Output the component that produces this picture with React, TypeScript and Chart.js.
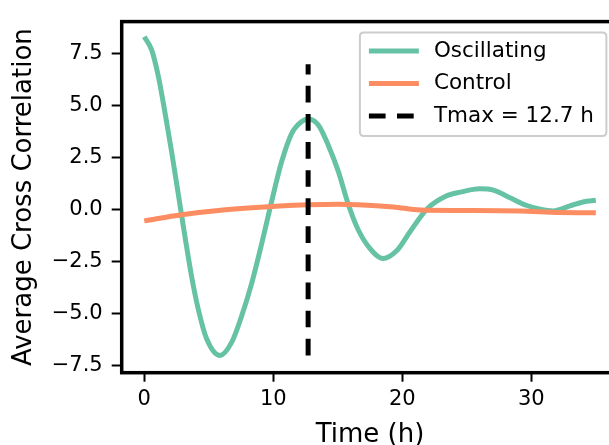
import React, { useEffect, useRef } from 'react';
import { Chart, registerables } from 'chart.js';

Chart.register(...registerables);

// ---- data ----
const oscTimes = [0, 0.57, 1.09, 1.6, 2.12, 2.64, 3.16, 3.67, 4.19, 4.84, 5.87, 6.78, 7.55, 8.33, 9.1, 9.88, 10.65, 11.43, 12.2, 12.71, 13.49, 14.26, 15.04, 15.81, 16.59, 17.5, 18.5, 19.56, 20.6, 21.9, 23.4, 24.5, 26.0, 27.06, 28.35, 29.6, 30.7, 31.7, 33.0, 34.0, 35.0];
const oscValues = [8.32, 7.69, 6.42, 4.69, 2.79, 0.74, -1.31, -3.21, -4.79, -6.21, -7.0, -6.36, -5.1, -3.52, -1.63, 0.43, 2.32, 3.68, 4.25, 4.37, 4.08, 3.11, 1.85, 0.27, -0.97, -1.86, -2.34, -1.97, -1.05, 0.03, 0.66, 0.85, 1.01, 0.95, 0.58, 0.22, 0.03, -0.05, 0.19, 0.38, 0.46];
const ctrlTimes = [0, 2.9, 6.3, 9.6, 12.7, 15.0, 16.6, 19.3, 21.4, 24.5, 29.1, 32.2, 35.0];
const ctrlValues = [-0.53, -0.24, 0.0, 0.15, 0.24, 0.27, 0.25, 0.14, -0.01, -0.03, -0.05, -0.13, -0.14];
const tmaxHour = 12.7;
const tmaxRange = [-7.0, 7.0];
const xTicks = [0, 10, 20, 30];
const yTicks = [-7.5, -5, -2.5, 0, 2.5, 5, 7.5];
const seriesLabels = ['Oscillating', 'Control', 'Tmax = 12.7 h'];
const seriesColors = ['#66c2a5', '#fc8d62', '#000000'];
const xTitle = 'Time (h)';
const yTitle = 'Average Cross Correlation';

const W = 640;
const H = 445;
const FONT = "'DejaVu Sans', sans-serif";
const LW = 5;
const DASH = [16.7, 11.4];

const fmtY = (v: number) => (v < 0 ? '\u2212' : '') + Math.abs(v).toFixed(1);
const fmtX = (v: number) => (v < 0 ? '\u2212' : '') + Math.abs(v).toFixed(0);

const framePlugin = {
  id: 'frameAndLegend',
  afterDatasetsDraw(chart: any) {
    const { ctx, chartArea: a } = chart;
    ctx.save();
    ctx.strokeStyle = '#000';
    ctx.lineWidth = 3.5;
    ctx.strokeRect(a.left, a.top, a.right - a.left, a.bottom - a.top);
    ctx.restore();
  },
  afterDraw(chart: any) {
    const { ctx, chartArea: a } = chart;
    const bw = 246.5;
    const bh = 103.5;
    const bx = a.right - 12 - bw;
    const by = a.top + 11;
    ctx.save();
    const r = 4;
    ctx.beginPath();
    ctx.moveTo(bx + r, by);
    ctx.lineTo(bx + bw - r, by);
    ctx.quadraticCurveTo(bx + bw, by, bx + bw, by + r);
    ctx.lineTo(bx + bw, by + bh - r);
    ctx.quadraticCurveTo(bx + bw, by + bh, bx + bw - r, by + bh);
    ctx.lineTo(bx + r, by + bh);
    ctx.quadraticCurveTo(bx, by + bh, bx, by + bh - r);
    ctx.lineTo(bx, by + r);
    ctx.quadraticCurveTo(bx, by, bx + r, by);
    ctx.closePath();
    ctx.fillStyle = 'rgba(255,255,255,0.8)';
    ctx.fill();
    ctx.strokeStyle = '#cccccc';
    ctx.lineWidth = 2;
    ctx.stroke();

    const rows = [18.5, 51, 83.5];
    seriesLabels.forEach((label, i) => {
      const y = by + rows[i];
      ctx.beginPath();
      ctx.strokeStyle = seriesColors[i];
      ctx.lineWidth = LW;
      ctx.lineCap = 'butt';
      ctx.setLineDash(i === 2 ? DASH : []);
      ctx.moveTo(bx + 9, y);
      ctx.lineTo(bx + 59, y);
      ctx.stroke();
      ctx.setLineDash([]);
      ctx.fillStyle = '#000';
      ctx.font = `21.5px ${FONT}`;
      ctx.textBaseline = 'middle';
      ctx.textAlign = 'left';
      ctx.fillText(label, bx + 74, y);
    });
    ctx.restore();
  },
};

export default function App() {
  const ref = useRef<HTMLCanvasElement | null>(null);

  useEffect(() => {
    if (!ref.current) return;
    const oscData = oscTimes.map((t, i) => ({ x: t, y: oscValues[i] }));
    const ctrlData = ctrlTimes.map((t, i) => ({ x: t, y: ctrlValues[i] }));
    const tmaxData = tmaxRange.map((v) => ({ x: tmaxHour, y: v }));

    const tickFont = { family: FONT, size: 21 };
    const titleFont = { family: FONT, size: 26 };

    const chart = new Chart(ref.current, {
      type: 'line',
      data: {
        datasets: [
          {
            label: seriesLabels[0],
            data: oscData,
            borderColor: seriesColors[0],
            backgroundColor: seriesColors[0],
            borderWidth: LW,
            borderJoinStyle: 'round',
            pointRadius: 0,
            cubicInterpolationMode: 'monotone',
            order: 3,
          },
          {
            label: seriesLabels[1],
            data: ctrlData,
            borderColor: seriesColors[1],
            backgroundColor: seriesColors[1],
            borderWidth: LW,
            borderJoinStyle: 'round',
            pointRadius: 0,
            cubicInterpolationMode: 'monotone',
            order: 2,
          },
          {
            label: seriesLabels[2],
            data: tmaxData,
            borderColor: seriesColors[2],
            backgroundColor: seriesColors[2],
            borderWidth: LW,
            borderDash: DASH,
            borderCapStyle: 'butt',
            pointRadius: 0,
            order: 1,
          },
        ],
      },
      options: {
        animation: false,
        responsive: false,
        devicePixelRatio: 1,
        events: [],
        layout: { padding: { top: 16.5, right: W - 618.4, left: 0, bottom: 0 } },
        plugins: {
          legend: { display: false },
          tooltip: { enabled: false },
          title: { display: false },
        },
        scales: {
          x: {
            type: 'linear',
            min: -1.75,
            max: 36.75,
            bounds: 'data',
            afterBuildTicks: (s: any) => {
              s.ticks = xTicks.map((v) => ({ value: v }));
            },
            afterFit: (s: any) => {
              s.height = 72.3;
            },
            grid: {
              display: true,
              drawOnChartArea: false,
              drawTicks: true,
              tickLength: 9,
              tickWidth: 2,
              tickColor: '#000',
            },
            border: { display: false },
            ticks: {
              autoSkip: false,
              maxRotation: 0,
              padding: 5,
              color: '#000',
              font: tickFont,
              callback: (v: any) => fmtX(Number(v)),
            },
            title: {
              display: true,
              text: xTitle,
              color: '#000',
              font: titleFont,
              padding: { top: 0, bottom: -5.6 },
            },
          },
          y: {
            type: 'linear',
            min: -7.83,
            max: 9.05,
            bounds: 'data',
            afterBuildTicks: (s: any) => {
              s.ticks = yTicks.map((v) => ({ value: v }));
            },
            afterFit: (s: any) => {
              s.width = 121.7;
            },
            grid: {
              display: true,
              drawOnChartArea: false,
              drawTicks: true,
              tickLength: 10,
              tickWidth: 2,
              tickColor: '#000',
            },
            border: { display: false },
            ticks: {
              autoSkip: false,
              padding: 9,
              color: '#000',
              font: tickFont,
              callback: (v: any) => fmtY(Number(v)),
            },
            title: {
              display: true,
              text: yTitle,
              color: '#000',
              font: titleFont,
              padding: { top: 8.7, bottom: 0 },
            },
          },
        },
      },
      plugins: [framePlugin],
    } as any);

    return () => chart.destroy();
  }, []);

  return (
    <div
      style={{
        position: 'fixed',
        left: 0,
        top: 0,
        width: 609,
        height: 445,
        overflow: 'hidden',
        background: '#fff',
      }}
    >
      <canvas ref={ref} width={W} height={H} style={{ display: 'block', width: W, height: H }} />
    </div>
  );
}
